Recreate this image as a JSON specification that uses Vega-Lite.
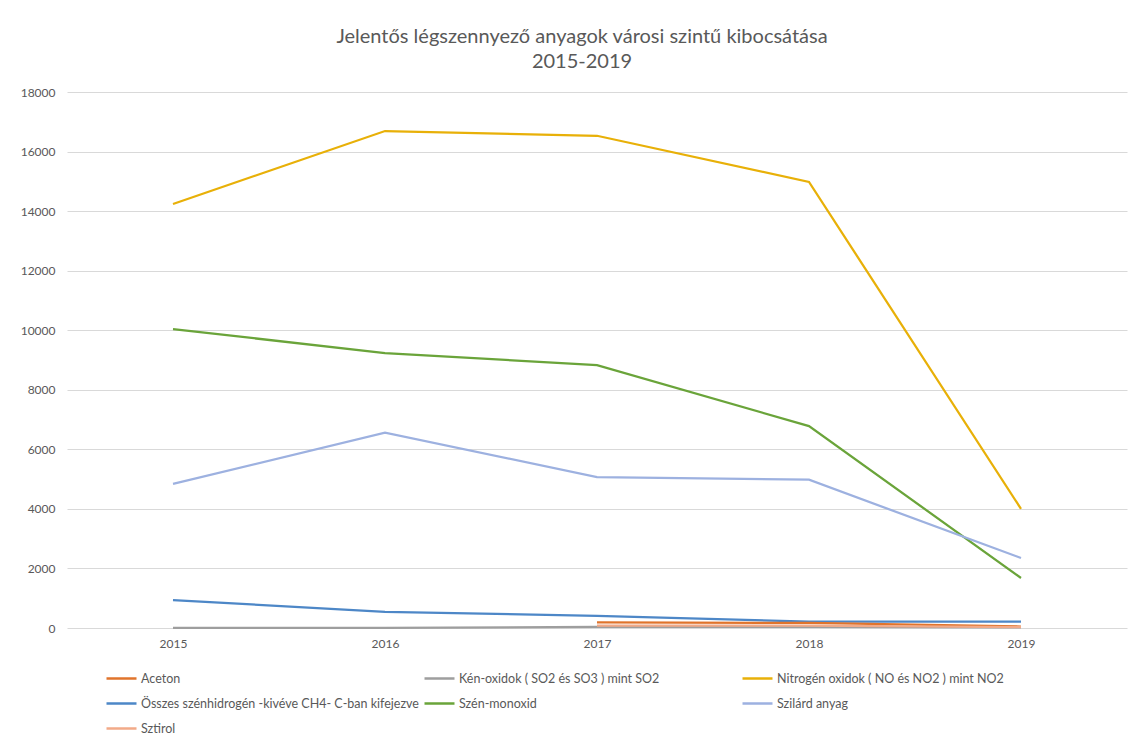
{
  "$schema": "https://vega.github.io/schema/vega-lite/v6.json",
  "autosize": {"type": "none"},
  "width": 1060,
  "height": 536,
  "padding": {"left": 67, "top": 92, "right": 5, "bottom": 116},
  "background": "white",
  "title": {
    "text": ["Jelentős légszennyező anyagok városi szintű kibocsátása", "2015-2019"],
    "anchor": "middle",
    "dx": -15,
    "offset": 14,
    "fontSize": 20,
    "fontWeight": "normal",
    "font": "Lato",
    "color": "#595959",
    "lineHeight": 25
  },
  "config": {
    "font": "Lato",
    "view": {"stroke": null}
  },
  "data": {
    "values": [
      {"ev": "2015", "anyag": "Kén-oxidok ( SO2 és SO3 ) mint SO2", "ertek": 5},
      {"ev": "2016", "anyag": "Kén-oxidok ( SO2 és SO3 ) mint SO2", "ertek": 5},
      {"ev": "2017", "anyag": "Kén-oxidok ( SO2 és SO3 ) mint SO2", "ertek": 35},
      {"ev": "2018", "anyag": "Kén-oxidok ( SO2 és SO3 ) mint SO2", "ertek": 35},
      {"ev": "2019", "anyag": "Kén-oxidok ( SO2 és SO3 ) mint SO2", "ertek": 20},
      {"ev": "2015", "anyag": "Nitrogén oxidok ( NO és NO2 )  mint NO2", "ertek": 14240},
      {"ev": "2016", "anyag": "Nitrogén oxidok ( NO és NO2 )  mint NO2", "ertek": 16690},
      {"ev": "2017", "anyag": "Nitrogén oxidok ( NO és NO2 )  mint NO2", "ertek": 16530},
      {"ev": "2018", "anyag": "Nitrogén oxidok ( NO és NO2 )  mint NO2", "ertek": 14980},
      {"ev": "2019", "anyag": "Nitrogén oxidok ( NO és NO2 )  mint NO2", "ertek": 4000},
      {"ev": "2015", "anyag": "Összes szénhidrogén -kivéve CH4- C-ban kifejezve", "ertek": 940},
      {"ev": "2016", "anyag": "Összes szénhidrogén -kivéve CH4- C-ban kifejezve", "ertek": 540},
      {"ev": "2017", "anyag": "Összes szénhidrogén -kivéve CH4- C-ban kifejezve", "ertek": 410},
      {"ev": "2018", "anyag": "Összes szénhidrogén -kivéve CH4- C-ban kifejezve", "ertek": 210},
      {"ev": "2019", "anyag": "Összes szénhidrogén -kivéve CH4- C-ban kifejezve", "ertek": 210},
      {"ev": "2015", "anyag": "Szén-monoxid", "ertek": 10040},
      {"ev": "2016", "anyag": "Szén-monoxid", "ertek": 9230},
      {"ev": "2017", "anyag": "Szén-monoxid", "ertek": 8830},
      {"ev": "2018", "anyag": "Szén-monoxid", "ertek": 6780},
      {"ev": "2019", "anyag": "Szén-monoxid", "ertek": 1680},
      {"ev": "2015", "anyag": "Szilárd anyag", "ertek": 4840},
      {"ev": "2016", "anyag": "Szilárd anyag", "ertek": 6560},
      {"ev": "2017", "anyag": "Szilárd anyag", "ertek": 5070},
      {"ev": "2018", "anyag": "Szilárd anyag", "ertek": 4980},
      {"ev": "2019", "anyag": "Szilárd anyag", "ertek": 2350},
      {"ev": "2017", "anyag": "Aceton", "ertek": 190},
      {"ev": "2018", "anyag": "Aceton", "ertek": 170},
      {"ev": "2019", "anyag": "Aceton", "ertek": 50},
      {"ev": "2017", "anyag": "Sztirol", "ertek": 80},
      {"ev": "2018", "anyag": "Sztirol", "ertek": 80},
      {"ev": "2019", "anyag": "Sztirol", "ertek": 30}
    ]
  },
  "mark": {"type": "line", "strokeWidth": 2.25},
  "encoding": {
    "x": {
      "field": "ev",
      "type": "ordinal",
      "scale": {"type": "point", "padding": 0.5},
      "axis": {
        "title": null,
        "labelAngle": 0,
        "ticks": false,
        "domain": false,
        "labelFontSize": 12,
        "labelColor": "#595959",
        "labelPadding": 10
      }
    },
    "y": {
      "field": "ertek",
      "type": "quantitative",
      "scale": {"domain": [0, 18000], "nice": false},
      "axis": {
        "title": null,
        "values": [0, 2000, 4000, 6000, 8000, 10000, 12000, 14000, 16000, 18000],
        "format": "d",
        "ticks": false,
        "domain": false,
        "labelFontSize": 12,
        "labelColor": "#595959",
        "labelPadding": 12,
        "gridColor": "#D9D9D9",
        "gridWidth": 1
      }
    },
    "color": {
      "field": "anyag",
      "type": "nominal",
      "scale": {
        "domain": [
          "Aceton",
          "Kén-oxidok ( SO2 és SO3 ) mint SO2",
          "Nitrogén oxidok ( NO és NO2 )  mint NO2",
          "Összes szénhidrogén -kivéve CH4- C-ban kifejezve",
          "Szén-monoxid",
          "Szilárd anyag",
          "Sztirol"
        ],
        "range": ["#E0742C", "#9E9E9E", "#E8B008", "#4D87C7", "#6AA43A", "#9DB1E0", "#F2AA88"]
      },
      "legend": {
        "title": null,
        "orient": "none",
        "direction": "horizontal",
        "legendX": 38,
        "legendY": 570,
        "columns": 3,
        "gridAlign": "all",
        "columnPadding": 0,
        "rowPadding": 2,
        "symbolType": "stroke",
        "symbolSize": 900,
        "symbolStrokeWidth": 2.5,
        "labelFontSize": 12.5,
        "labelColor": "#595959",
        "labelOffset": 3,
        "labelLimit": 400
      }
    }
  }
}
